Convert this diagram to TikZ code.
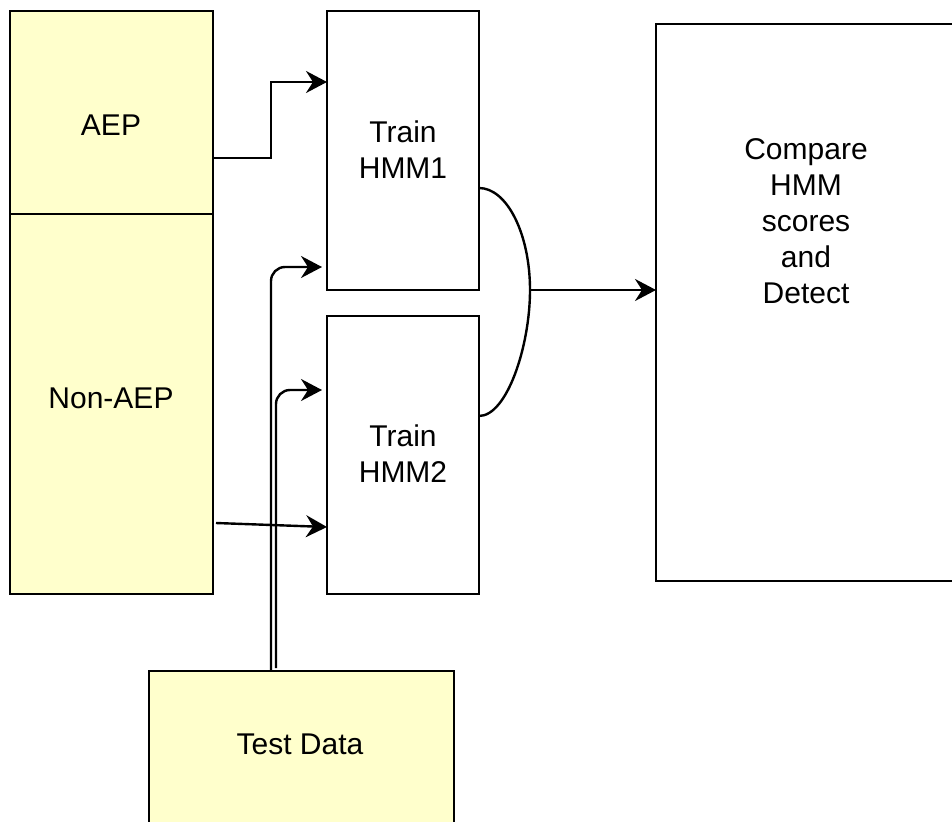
\documentclass[tikz,border=0pt]{standalone}
\usepackage{fontspec}
\setmainfont{Liberation Sans}
\usetikzlibrary{arrows.meta}
\definecolor{paleyellow}{HTML}{FFFFCC}
\begin{document}
\begin{tikzpicture}[x=1pt,y=-1pt,
  box/.style={draw=black, line width=2.4pt, rectangle, inner sep=0pt, outer sep=0pt, anchor=north west},
  databox/.style={box, fill=paleyellow},
  lbl/.style={inner sep=0pt, outer sep=0pt, align=center, font=\fontsize{30}{36}\selectfont},
  wire/.style={draw=black, line width=2.4pt},
  arr/.style={wire, -{Stealth[length=21pt,width=22pt,inset=7pt]}}]
\useasboundingbox (0,0) rectangle (952,821);
\clip (0,0) rectangle (952,821);

% data sources
\node[databox, minimum width=203pt, minimum height=203pt] (aep) at (10,11) {};
\node[databox, minimum width=203pt, minimum height=380pt] (nonaep) at (10,214) {};
\node[databox, minimum width=305pt, minimum height=170pt] (test) at (149,671) {};

% models and decision
\node[box, minimum width=152pt, minimum height=279pt] (hmm1) at (327,11) {};
\node[box, minimum width=152pt, minimum height=278pt] (hmm2) at (327,316) {};
\node[box, minimum width=320pt, minimum height=557pt] (cmp) at (656,24) {};

% labels
\node[lbl] (aeplbl) at (111,125) {AEP};
\node[lbl] (nonaeplbl) at (111,398) {Non-AEP};
\node[lbl] (testlbl) at (300,744.5) {Test Data};
\node[lbl] (hmm1lbl) at (403,149.5) {Train\\HMM1};
\node[lbl] (hmm2lbl) at (403,453.5) {Train\\HMM2};
\node[lbl] (cmplbl) at (806,221.5) {Compare\\HMM\\scores\\and\\Detect};

% training inputs
\draw[arr] ([yshift=-45.5pt]aep.east) -- ++(58,0) |- ([yshift=68.5pt]hmm1.west);
\draw[arr] ([xshift=3pt,yshift=-119pt]nonaep.east) -- ([yshift=-72pt]hmm2.west);

% test data routed to both models
\coordinate (t1) at ([xshift=-5pt,yshift=-116.5pt]hmm1.west);
\coordinate (t2) at ([xshift=-5pt,yshift=65pt]hmm2.west);
\draw[arr, rounded corners=14pt] ([xshift=-30.5pt]test.north) |- (t1);
\draw[arr, rounded corners=14pt] ([xshift=-25.5pt,yshift=3pt]test.north) |- (t2);

% merge of the two model outputs
\coordinate (join) at (530,290);
\draw[wire] ([yshift=-37.5pt]hmm1.east) .. controls ++(28,0) and (530,234) .. (join)
  .. controls (530,346) and (507,416) .. ([yshift=39pt]hmm2.east);
\draw[arr] (join) -- (cmp.west |- join);
\end{tikzpicture}
\end{document}
